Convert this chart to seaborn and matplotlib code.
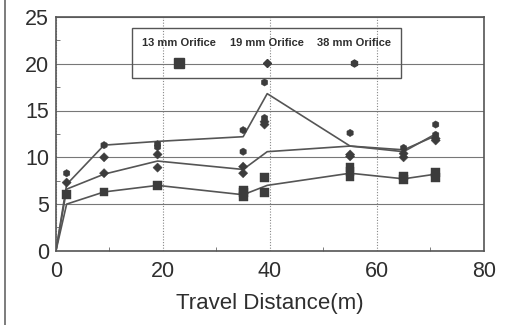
# Travel distance chart: three orifice sizes, replicate points plus trend lines

import numpy as np
import pandas as pd
import seaborn as sns
import matplotlib
matplotlib.use("Agg")
import matplotlib.pyplot as plt
from matplotlib.lines import Line2D
from matplotlib.ticker import MultipleLocator
from matplotlib.offsetbox import AnchoredOffsetbox, HPacker, VPacker, TextArea, DrawingArea


# Data ........................................................................

series_names = ["13 mm Orifice", "19 mm Orifice", "38 mm Orifice"]

# Trend lines (one per orifice)
line_x = [0, 2, 9, 19, 35, 39.5, 55, 65, 71]
line_13 = [0, 5.0, 6.3, 7.0, 6.0, 7.0, 8.3, 7.7, 8.2]
line_19 = [0, 6.6, 8.2, 9.6, 8.7, 10.6, 11.2, 10.8, 12.3]
line_38 = [0, 7.1, 11.3, 11.7, 12.2, 16.8, 11.2, 10.6, 12.5]

# Measured points
pts_13_x = [2, 9, 19, 35, 35, 35, 39, 39, 55, 55, 55, 65, 65, 71, 71]
pts_13_y = [6.0, 6.3, 7.0, 5.8, 6.2, 6.5, 6.2, 7.8, 7.9, 8.5, 8.9, 7.6, 8.0, 7.8, 8.4]

pts_19_x = [2, 9, 9, 19, 19, 35, 35, 39, 39, 55, 55, 65, 65, 71, 71]
pts_19_y = [7.3, 8.3, 10.0, 8.9, 10.3, 8.3, 9.0, 13.5, 13.8, 10.1, 10.3, 10.0, 10.4, 11.8, 12.0]

pts_38_x = [2, 9, 19, 19, 35, 35, 39, 39, 55, 65, 71, 71]
pts_38_y = [8.3, 11.3, 11.4, 11.1, 12.9, 10.6, 18.0, 14.2, 12.6, 11.0, 13.5, 12.4]


# Build long tables ...........................................................

lines = pd.DataFrame({
    "x": line_x * 3,
    "y": line_13 + line_19 + line_38,
    "series": np.repeat(series_names, len(line_x)),
})

points = pd.DataFrame({
    "x": pts_13_x + pts_19_x + pts_38_x,
    "y": pts_13_y + pts_19_y + pts_38_y,
    "series": [series_names[0]] * len(pts_13_x)
              + [series_names[1]] * len(pts_19_x)
              + [series_names[2]] * len(pts_38_x),
})


# Plot ........................................................................

sns.set_style("white")
plt.rcParams["font.family"] = ["Liberation Sans", "DejaVu Sans"]

ink = "#3c3c3c"
text_col = "#2e2e2e"
marker_map = {series_names[0]: "s", series_names[1]: "D", series_names[2]: "h"}
size_map = {series_names[0]: 40, series_names[1]: 22, series_names[2]: 28}

fig = plt.figure(figsize = (5.18, 3.25), dpi = 100)
ax = fig.add_axes([0.108, 0.228, 0.826, 0.72])

sns.lineplot(data = lines, x = "x", y = "y", units = "series", estimator = None,
             color = "#555555", linewidth = 1.2, sort = False, ax = ax, legend = False)

sns.scatterplot(data = points, x = "x", y = "y", style = "series", markers = marker_map,
                size = "series", sizes = size_map, color = ink, edgecolor = ink,
                linewidth = 0.3, ax = ax, legend = False, zorder = 3)

ax.set_xlim(0, 80)
ax.set_ylim(0, 25)
ax.set_xticks([0, 20, 40, 60, 80])
ax.set_yticks([0, 5, 10, 15, 20, 25])
ax.xaxis.set_minor_locator(MultipleLocator(10))
ax.yaxis.set_minor_locator(MultipleLocator(2.5))
ax.tick_params(which = "major", length = 0, labelsize = 15.5, labelcolor = text_col)
ax.tick_params(axis = "x", which = "major", pad = 7)
ax.tick_params(axis = "y", which = "major", pad = 5)
ax.tick_params(which = "minor", direction = "in", length = 3, color = "#666666",
               bottom = True, left = True)

# Grid: solid horizontals, dotted verticals
ax.yaxis.grid(True, color = "#777777", linewidth = 0.8)
ax.xaxis.grid(True, color = "#888888", linewidth = 0.8, linestyle = (0, (1, 1.5)))
ax.set_axisbelow(True)

for spine in ax.spines.values():
    spine.set_color("#555555")
    spine.set_linewidth(1.2)

ax.set_xlabel("Travel Distance(m)", fontsize = 16, color = text_col, labelpad = 8)
ax.set_ylabel("")

# Legend: labels above their markers, in one row
legend_sizes = {series_names[0]: 6.5, series_names[1]: 4.5, series_names[2]: 5}
entries = []
for name in series_names:
    da = DrawingArea(14, 8, 0, 0)
    da.add_artist(Line2D([7], [4], marker = marker_map[name], markersize = legend_sizes[name],
                         color = ink, linestyle = "none"))
    label = TextArea(name, textprops = dict(fontsize = 8, color = text_col, fontweight = "bold"))
    entries.append(VPacker(children = [label, da], align = "center", pad = 0, sep = 7))

row = HPacker(children = entries, align = "top", pad = 0, sep = 10)
legend_box = AnchoredOffsetbox(loc = "upper left", child = row, pad = 0.7, borderpad = 0,
                               frameon = True, bbox_to_anchor = (0.178, 0.953),
                               bbox_transform = ax.transAxes)
legend_box.patch.set_facecolor("none")
legend_box.patch.set_edgecolor("#555555")
legend_box.patch.set_linewidth(1.0)
ax.add_artist(legend_box)

# Left border of the scanned figure
fig.add_artist(Line2D([0.01, 0.01], [0, 1], transform = fig.transFigure,
                      color = "#666666", linewidth = 1.2))

plt.savefig("out.png", dpi = 100)
